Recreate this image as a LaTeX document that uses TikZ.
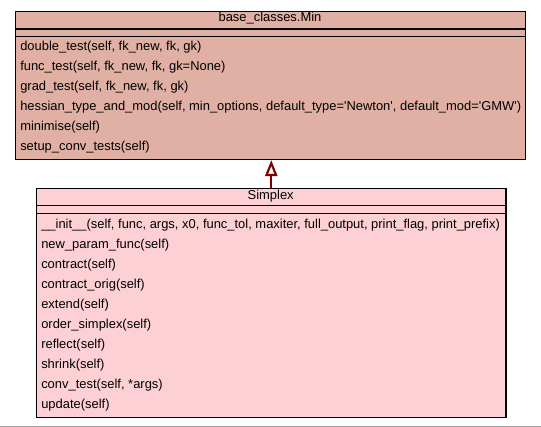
\documentclass[tikz,border=0pt]{standalone}
\usepackage{fontspec}
\setmainfont{Liberation Sans}
\usetikzlibrary{arrows.meta,positioning}
\definecolor{umlBase}   {RGB}{224, 176, 164}
\definecolor{umlSimplex}{RGB}{252, 208, 212}
\definecolor{umlArrow}  {RGB}{128,   0,   0}
\tikzset{
  classbox/.style={draw=black,line width=0.8pt,rectangle,inner sep=0pt,
                   anchor=north west},
  classname/.style={font=\fontsize{9.7}{12}\selectfont,inner sep=0pt},
  methodtxt/.style={font=\fontsize{9.7}{12}\selectfont,inner sep=0pt,
                    anchor=west},
  sepline/.style={black,line width=0.8pt},
}

\begin{document}
\begin{tikzpicture}[x=0.75pt,y=-0.75pt]
        \useasboundingbox (0,0) rectangle (541,427);
        % Borda inferior cinza
        \draw[gray!70,line width=1pt](0,426.5)--(541,426.5);

        % Classe base: base_classes.Min
        \node[classbox,fill=umlBase,minimum width=382.5pt,minimum height=111pt]
          (base) at (15,11) {};
        \node[classname] (baseTitle) at (270,18.5) {base\_classes.Min};
        \draw[sepline](15,29)--(525,29);
        \draw[sepline](15,36.7)--(525,36.7);
        \foreach \txt [count=\i from 0] in {
          {double\_test(self, fk\_new, fk, gk)},
          {func\_test(self, fk\_new, fk, gk=None)},
          {grad\_test(self, fk\_new, fk, gk)},
          {hessian\_type\_and\_mod(self, min\_options, default\_type=\textquotesingle Newton\textquotesingle, default\_mod=\textquotesingle GMW\textquotesingle)},
          {minimise(self)},
          {setup\_conv\_tests(self)}}{
          \node[methodtxt] (baseM\i) at (20,46.7+20*\i) {\txt};
        }

        % Classe derivada: Simplex
        \node[classbox,fill=umlSimplex,minimum width=352.1pt,minimum height=171.3pt]
          (simplex) at (36,188.3) {};
        \node[classname] (simplexTitle) at (270.7,196.5) {Simplex};
        \draw[sepline](36,205.7)--(505.5,205.7);
        \draw[sepline](36,213.3)--(505.5,213.3);
        \foreach \txt [count=\i from 0] in {
          {\_\_init\_\_(self, func, args, x0, func\_tol, maxiter, full\_output, print\_flag, print\_prefix)},
          {new\_param\_func(self)},
          {contract(self)},
          {contract\_orig(self)},
          {extend(self)},
          {order\_simplex(self)},
          {reflect(self)},
          {shrink(self)},
          {conv\_test(self, *args)},
          {update(self)}}{
          \node[methodtxt] (simplexM\i) at (41,225+20*\i) {\txt};
        }

        % Heranca
        \draw[umlArrow,line width=1.6pt,-{Triangle[open,length=12pt,width=9pt]}]
          (simplex.north)--(simplex.north |- base.south);
      \end{tikzpicture}
\end{document}
